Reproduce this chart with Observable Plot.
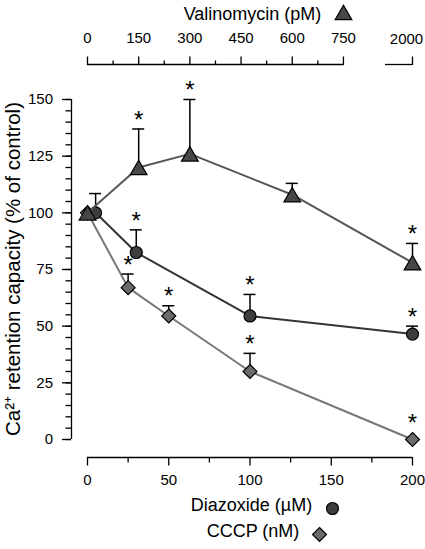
<!DOCTYPE html>
<html>
<head>
<meta charset="utf-8">
<script src="https://cdn.jsdelivr.net/npm/d3@7"></script>
<script src="https://cdn.jsdelivr.net/npm/@observablehq/plot@0.6"></script>
<style>
  html, body { margin: 0; padding: 0; background: #fff; }
  #chart { width: 425px; height: 549px; }
</style>
</head>
<body>
<div id="chart"></div>
<script>
// ---- data ----
const valDose = [0, 150, 300, 600, 2000];          // Valinomycin, pM
const valMean = [100, 120, 126, 108, 78];
const valErr  = [0, 17, 24, 5, 8.5];
const valSig  = [false, true, true, false, true];

const diazDose = [5, 30, 100, 200];                  // Diazoxide, µM
const diazMean = [100, 82.5, 54.5, 46.5];
const diazErr  = [8.5, 10, 9.5, 3.5];
const diazSig  = [false, true, true, true];

const cccpDose = [0, 25, 50, 100, 200];              // CCCP, nM
const cccpMean = [100, 67, 54.5, 30, 0];
const cccpErr  = [0, 6, 4.5, 8, 0];
const cccpSig  = [false, true, true, true, true];

const yTicks      = [0, 25, 50, 75, 100, 125, 150];
const yMinorTicks = d3.range(0, 151, 5);
const xTicks      = [0, 50, 100, 150, 200];
const xMinorTicks = [25, 75, 125, 175];
const valTicks      = [0, 150, 300, 450, 600, 750];
const valMinorTicks = [75, 225, 375, 525, 675];
const valBreakTick  = 2000;

const yLabel    = "Ca²⁺ retention capacity (% of control)";
const valTitle  = "Valinomycin (pM)";
const diazTitle = "Diazoxide (µM)";
const cccpTitle = "CCCP (nM)";

// valinomycin axis: 0–750 pM linear, broken, then 2000 pM at the right end
const valToX = v => v <= 750 ? v * 0.21 : 200;

const val  = valDose.map((d, i) => ({x: valToX(d), y: valMean[i], e: valErr[i], s: valSig[i]}));
const diaz = diazDose.map((d, i) => ({x: d, y: diazMean[i], e: diazErr[i], s: diazSig[i]}));
const cccp = cccpDose.map((d, i) => ({x: d, y: cccpMean[i], e: cccpErr[i], s: cccpSig[i]}));

const valLabel = new Map(valTicks.map(v => [valToX(v), String(v)]));

const capHalf = 3.7;
const ink = "#000";
const lw = 1.3;

function seriesMarks(data, opt) {
  const withErr = data.filter(d => d.e > 0);
  return [
    Plot.line(data, {x: "x", y: "y", stroke: opt.line, strokeWidth: 2}),
    Plot.ruleX(withErr, {x: "x", y1: "y", y2: d => d.y + d.e, stroke: ink, strokeWidth: 1.5}),
    Plot.ruleY(withErr, {y: d => d.y + d.e, x1: d => d.x - capHalf, x2: d => d.x + capHalf, stroke: ink, strokeWidth: 1.5}),
    Plot.dot(data, {x: "x", y: "y", symbol: opt.symbol, r: opt.r, fill: opt.fill, stroke: ink, strokeWidth: 1.2, dy: opt.dy || 0}),
    Plot.text(data.filter(d => d.s && d.e > 0), {x: "x", y: d => d.y + d.e, text: () => "*", fontSize: 24, dy: -9}),
    Plot.text(data.filter(d => d.s && !(d.e > 0)), {x: "x", y: "y", text: () => "*", fontSize: 24, dy: -16})
  ];
}

const chart = Plot.plot({
  width: 425,
  height: 549,
  marginTop: 64,
  marginBottom: 92,
  marginLeft: 71,
  marginRight: 13,
  style: {fontFamily: "'Liberation Sans', Arial, Helvetica, sans-serif", fontSize: "15px", color: "#000", background: "#fff"},
  x: {domain: [0, 200], range: [87, 412]},
  y: {domain: [0, 150], range: [439, 99]},
  marks: [
    // left axis
    Plot.ruleX([0], {y1: 0, y2: 150, dx: -16, stroke: ink, strokeWidth: lw}),
    Plot.axisY({ticks: yMinorTicks, tickSize: 5.5, tickFormat: () => "", strokeWidth: lw, label: null}),
    Plot.axisY({ticks: yTicks, tickSize: 9, tickPadding: 9.5, fontSize: 15, strokeWidth: lw, label: null}),
    Plot.text([yLabel], {frameAnchor: "left", textAnchor: "middle", rotate: -90, dx: -58, dy: 8, fontSize: 20.5}),
    // bottom axis
    Plot.ruleY([0], {x1: 0, x2: 200, dy: 18, stroke: ink, strokeWidth: lw}),
    Plot.axisX({ticks: xMinorTicks, anchor: "bottom", tickSize: 5.5, tickFormat: () => "", strokeWidth: lw, label: null}),
    Plot.axisX({ticks: xTicks, anchor: "bottom", tickSize: 8.5, tickPadding: 8, fontSize: 15, strokeWidth: lw, label: null}),
    Plot.text([diazTitle], {frameAnchor: "bottom", dx: 9.5, dy: 53, fontSize: 18}),
    Plot.dot([diazTitle], {frameAnchor: "bottom", dx: 90.5, dy: 51, symbol: "circle", r: 6, fill: "#3d3d3d", stroke: ink, strokeWidth: 1.2}),
    Plot.text([cccpTitle], {frameAnchor: "bottom", dx: 11, dy: 79, fontSize: 18}),
    Plot.dot([cccpTitle], {frameAnchor: "bottom", dx: 77.5, dy: 77, symbol: "diamond2", r: 6.3, fill: "#6b6b6b", stroke: ink, strokeWidth: 1.2}),
    // top (valinomycin) axis
    Plot.ruleY([150], {x1: valToX(0), x2: valToX(750), dy: -35, stroke: ink, strokeWidth: lw}),
    Plot.ruleY([150], {x1: 183.4, x2: valToX(valBreakTick), dy: -35, stroke: ink, strokeWidth: lw}),
    Plot.axisX({ticks: valMinorTicks.map(valToX), anchor: "top", tickSize: 4.5, tickFormat: () => "", strokeWidth: lw, label: null}),
    Plot.axisX({ticks: valTicks.map(valToX), anchor: "top", tickSize: 8.5, tickPadding: 13, fontSize: 15, tickFormat: d => valLabel.get(d), strokeWidth: lw, label: null}),
    Plot.axisX({ticks: [valToX(valBreakTick)], anchor: "top", tickSize: 8.5, tickFormat: () => "", strokeWidth: lw, label: null}),
    Plot.text([String(valBreakTick)], {x: () => valToX(valBreakTick), frameAnchor: "top", dx: -6, dy: -31, fontSize: 15}),
    Plot.text([valTitle], {frameAnchor: "top", dx: 10.5, dy: -57, fontSize: 18}),
    Plot.dot([valTitle], {frameAnchor: "top", dx: 101.5, dy: -49.6, symbol: "triangle", r: 6.2, fill: "#474747", stroke: ink, strokeWidth: 1.2}),
    // series
    ...seriesMarks(cccp, {line: "#777", symbol: "diamond2", r: 6.3, fill: "#6b6b6b"}),
    ...seriesMarks(diaz, {line: "#333", symbol: "circle", r: 6, fill: "#3d3d3d"}),
    ...seriesMarks(val,  {line: "#555", symbol: "triangle", r: 6.2, fill: "#474747", dy: 2.4})
  ]
});
document.getElementById("chart").appendChild(chart);
</script>
</body>
</html>
